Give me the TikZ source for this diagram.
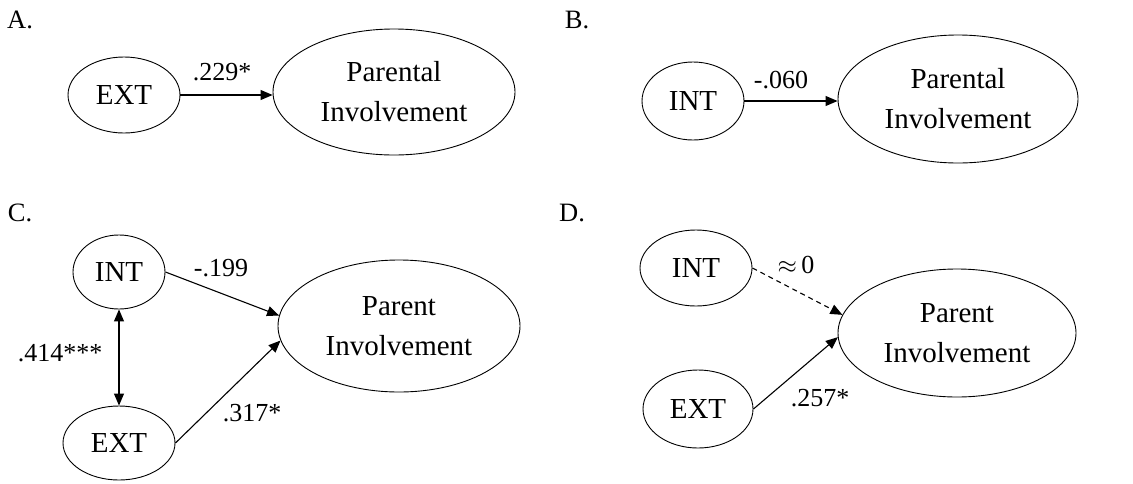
\documentclass[tikz,border=0pt]{standalone}
\usepackage{fontspec}
\setmainfont{Liberation Serif}
\usetikzlibrary{shapes.geometric,arrows.meta}
\begin{document}
\begin{tikzpicture}[x=1pt,y=-1pt,
  ell/.style={draw, ellipse, inner sep=0pt, line width=0.9pt, align=center,
    font=\fontsize{29}{40}\selectfont},
  lab/.style={inner sep=0pt, font=\fontsize{26}{30}\selectfont},
  panel/.style={inner sep=0pt, font=\fontsize{26.5}{30}\selectfont},
  tip/.tip={Triangle[length=12pt,width=10pt]},
  arr/.style={line width=1.1pt, -tip},
  darr/.style={line width=1.1pt, tip-tip},
]
\useasboundingbox (0,0) rectangle (1133,483);

% ---------- Panel A ----------
\node[panel] (pA) at (20,20) {A.};
\node[ell, minimum width=112pt, minimum height=76pt] (aEXT) at (124,95) {EXT};
\node[ell, minimum width=242pt, minimum height=126pt] (aPI) at (394,92) {Parental\\Involvement};
\draw[arr] (aEXT.east) -- (aEXT.east -| aPI.west);
\node[lab] (aL) at (222,72) {.229*};

% ---------- Panel B ----------
\node[panel] (pB) at (577,20) {B.};
\node[ell, minimum width=102pt, minimum height=78pt] (bINT) at (693,101) {INT};
\node[ell, minimum width=240pt, minimum height=128pt] (bPI) at (958,99) {Parental\\Involvement};
\draw[arr] (bINT.east) -- (bINT.east -| bPI.west);
\node[lab] (bL) at (781,80) {-.060};

% ---------- Panel C ----------
\node[panel] (pC) at (20,213) {C.};
\node[ell, minimum width=92pt, minimum height=74pt] (cINT) at (119,272) {INT};
\node[ell, minimum width=112pt, minimum height=74pt] (cEXT) at (119,443) {EXT};
\node[ell, minimum width=242pt, minimum height=132pt] (cPI) at (399,326) {Parent\\Involvement};
\draw[arr] (cINT.east) -- (cPI.175);
\draw[arr] (cEXT.east) -- (cPI.187);
\draw[darr] (cINT.south) -- (cEXT.north);
\node[lab] (cL1) at (221,268) {-.199};
\node[lab] (cL2) at (60,353) {.414***};
\node[lab] (cL3) at (252,413) {.317*};

% ---------- Panel D ----------
\node[panel] (pD) at (572,213) {D.};
\node[ell, minimum width=112pt, minimum height=76pt] (dINT) at (696,268) {INT};
\node[ell, minimum width=110pt, minimum height=78pt] (dEXT) at (698,409) {EXT};
\node[ell, minimum width=238pt, minimum height=128pt] (dPI) at (957,333) {Parent\\Involvement};
\draw[arr, dash pattern=on 5pt off 4pt] (dINT.east) -- (dPI.171);
\draw[arr] (dEXT.east) -- (dPI.182);
\node[lab] (dL1) at (796,265) {$\approx$\,0};
\node[lab] (dL2) at (820,398) {.257*};
\end{tikzpicture}
\end{document}
